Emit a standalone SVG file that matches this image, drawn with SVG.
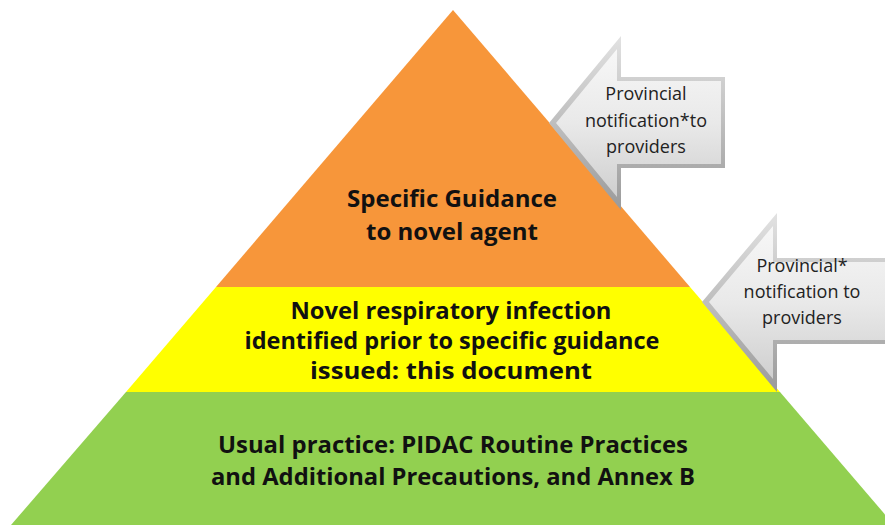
<svg xmlns="http://www.w3.org/2000/svg" width="885" height="525" viewBox="0 0 885 525">
<style>
.lvl{font-family:"Open Sans","Liberation Sans",sans-serif;font-weight:bold;font-size:24px;fill:#111;text-anchor:middle}
.arr{font-family:"Open Sans","Liberation Sans",sans-serif;font-size:18px;fill:#222;text-anchor:middle}
</style>
<defs>
<linearGradient id="rim" x1="0" y1="0" x2="0" y2="1">
<stop offset="0" stop-color="#e2e2e2"/><stop offset="1" stop-color="#9a9a9a"/>
</linearGradient>
<linearGradient id="face" x1="0" y1="0" x2="0" y2="1">
<stop offset="0" stop-color="#f7f7f7"/><stop offset="0.5" stop-color="#e9e9e9"/><stop offset="1" stop-color="#cfcfcf"/>
</linearGradient>
</defs>
<rect width="885" height="525" fill="#ffffff"/>
<g id="level-top">
<polygon points="453,10 690,287 216,287" fill="#F7963A"/>
<text class="lvl" x="452" y="207">Specific Guidance</text>
<text class="lvl" x="452" y="240">to novel agent</text>
</g>
<g id="level-middle">
<polygon points="216,287 690,287 780,392 126,392" fill="#FFFF00"/>
<text class="lvl" x="451" y="319" textLength="321" lengthAdjust="spacingAndGlyphs">Novel respiratory infection</text>
<text class="lvl" x="452" y="349" textLength="415" lengthAdjust="spacingAndGlyphs">identified prior to specific guidance</text>
<text class="lvl" x="451" y="379" textLength="282" lengthAdjust="spacingAndGlyphs">issued: this document</text>
</g>
<g id="level-bottom">
<polygon points="126,392 780,392 894,525 11,525" fill="#92D050"/>
<text class="lvl" x="453" y="453" textLength="470" lengthAdjust="spacingAndGlyphs">Usual practice: PIDAC Routine Practices</text>
<text class="lvl" x="453" y="485" textLength="484" lengthAdjust="spacingAndGlyphs">and Additional Precautions, and Annex B</text>
</g>
<g id="connectors">
<g id="arrow-top">
<polygon points="549,123 621,36 621,77 725,77 725,168 621,168 621,210" fill="url(#rim)"/>
<polygon points="556,123 617,49 617,81 721,81 721,164 617,164 617,197" fill="url(#face)"/>
<text class="arr" x="646" y="100">Provincial</text>
<text class="arr" x="646" y="127">notification*to</text>
<text class="arr" x="646" y="153">providers</text>
</g>
<g id="arrow-bottom">
<polygon points="702,302 777,213 777,258 885,258 885,344 777,344 777,392" fill="url(#rim)"/>
<polygon points="709,302 773,226 773,262 885,262 885,340 773,340 773,379" fill="url(#face)"/>
<text class="arr" x="802" y="272">Provincial*</text>
<text class="arr" x="802" y="298">notification to</text>
<text class="arr" x="802" y="324">providers</text>
</g>
</g>
</svg>
